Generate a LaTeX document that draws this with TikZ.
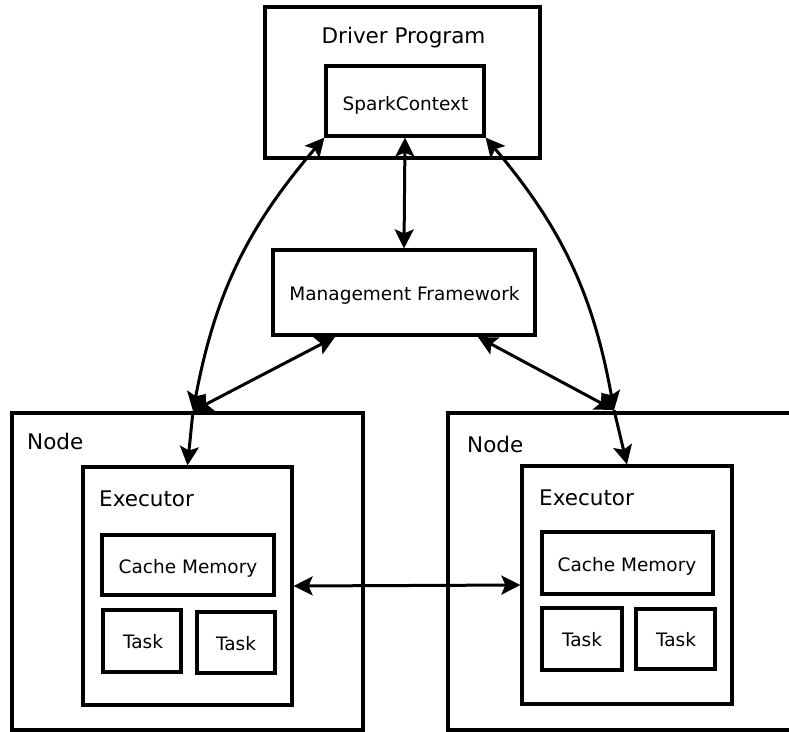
\documentclass[tikz,border=0pt]{standalone}
\usepackage{fontspec}
\setmainfont{DejaVu Sans}
\usetikzlibrary{arrows.meta}
\begin{document}
\begin{tikzpicture}[x=1pt,y=1pt,
  bx/.style 2 args={draw,line width=3.2pt,inner sep=0pt,minimum width=#1,minimum height=#2},
  big/.style={font=\fontsize{21.5}{25}\selectfont,inner sep=0pt},
  small/.style={font=\fontsize{18.5}{22}\selectfont,inner sep=0pt},
  conn/.style={line width=3pt},
  >={Stealth[length=19pt,width=19pt,inset=4pt]}]
\path[use as bounding box] (0,0) rectangle (789,-731);
\clip (0,0) rectangle (789,-731);

% boxes
\node[bx={275pt}{151pt}] (dp) at (402.5,-82.5) {};
\node[bx={158pt}{70pt}] (sc) at (405,-101) {};
\node[bx={262pt}{85pt}] (mg) at (404,-292.5) {};
\node[bx={351pt}{317pt}] (ln) at (187.5,-571.5) {};
\node[bx={372pt}{317pt}] (rn) at (634,-571.5) {};
\node[bx={209pt}{238pt}] (lex) at (187.5,-586) {};
\node[bx={210pt}{238pt}] (rex) at (627,-585) {};
\node[bx={172pt}{60pt}] (lca) at (188,-565) {};
\node[bx={171pt}{62pt}] (rca) at (627.5,-563) {};
\node[bx={78pt}{62pt}] (lt1) at (142,-641) {};
\node[bx={78pt}{61pt}] (lt2) at (236,-642.5) {};
\node[bx={80pt}{62pt}] (rt1) at (582,-639) {};
\node[bx={79pt}{60pt}] (rt2) at (675.5,-639) {};

% labels
\node[big,anchor=base] (tdp) at (403.5,-43) {Driver Program};
\node[small,anchor=base] (tsc) at (405.5,-110) {SparkContext};
\node[small,anchor=base] (tmg) at (404.5,-300) {Management Framework};
\node[big,anchor=base west] (tln) at (27,-449) {Node};
\node[big,anchor=base west] (trn) at (467,-452) {Node};
\node[big,anchor=base west] (tlex) at (99,-506) {Executor};
\node[big,anchor=base west] (trex) at (539,-505) {Executor};
\node[small,anchor=base] (tlca) at (188,-573) {Cache Memory};
\node[small,anchor=base] (trca) at (627,-571) {Cache Memory};
\node[small,anchor=base] (tlt1) at (143,-648) {Task};
\node[small,anchor=base] (tlt2) at (236,-650) {Task};
\node[small,anchor=base] (trt1) at (582,-646) {Task};
\node[small,anchor=base] (trt2) at (676,-646) {Task};

% junction points
\coordinate (jl) at (193,-411);
\coordinate (jr) at (614,-410);
\coordinate (ml) at (335,-337);
\coordinate (mr) at (478,-337);

% connectors
\draw[conn,<->] (sc.south) -- (mg.north);
\draw[conn,<->] (sc.south west) to[bend right=15] (jl);
\draw[conn,<->] (sc.south east) to[bend left=15] (jr);
\draw[conn,<->] (ml) -- (jl);
\draw[conn,<->] (mr) -- (jr);
\draw[conn,->] (jl) -- (lex.north);
\draw[conn,->] (jr) -- (rex.north);
\draw[conn,<->] (lex.east) -- (rex.west);
\end{tikzpicture}
\end{document}
